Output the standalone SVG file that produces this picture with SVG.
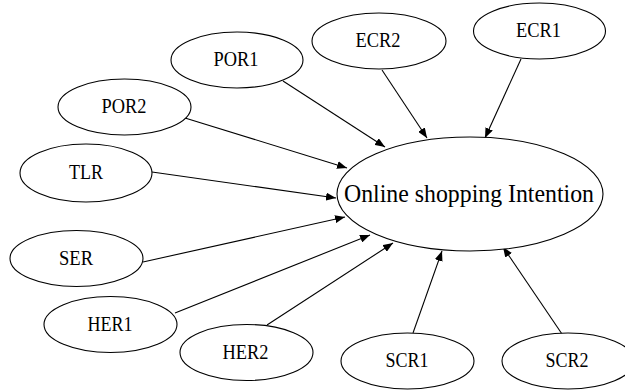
<svg xmlns="http://www.w3.org/2000/svg" width="625" height="392" viewBox="0 0 625 392">
<style>
.n ellipse{fill:#fff;stroke:#000;stroke-width:1.1}
.n text{font-family:"Liberation Serif","Times New Roman",serif;font-size:20px;text-anchor:middle;fill:#000}
#edges line{stroke:#000;stroke-width:1.1;marker-end:url(#ah)}
</style>
<defs>
<marker id="ah" markerWidth="11" markerHeight="8" refX="10" refY="4" orient="auto" markerUnits="userSpaceOnUse">
<path d="M0,0 L10,4 L0,8 Z" fill="#000"/>
</marker>
</defs>
<rect width="625" height="392" fill="#fff"/>
<g id="edges">
<line x1="283" y1="81" x2="385" y2="147"/>
<line x1="382" y1="70" x2="427" y2="138"/>
<line x1="521" y1="59" x2="485" y2="138"/>
<line x1="185" y1="118" x2="347" y2="168"/>
<line x1="152" y1="172" x2="336" y2="198"/>
<line x1="143" y1="262" x2="345" y2="217"/>
<line x1="175" y1="313" x2="370" y2="235"/>
<line x1="267" y1="325" x2="393" y2="243"/>
<line x1="413" y1="333" x2="442" y2="251"/>
<line x1="562" y1="334" x2="503" y2="247"/>
</g>
<g id="main" class="n"><ellipse cx="470" cy="194" rx="133" ry="57"/><text x="469" y="202" style="font-size:26px" textLength="250" lengthAdjust="spacingAndGlyphs">Online shopping Intention</text></g>
<g id="POR1" class="n"><ellipse cx="237" cy="60" rx="66" ry="28"/><text x="236" y="66" textLength="45" lengthAdjust="spacingAndGlyphs">POR1</text></g>
<g id="POR2" class="n"><ellipse cx="124.5" cy="107" rx="66.5" ry="28"/><text x="124" y="113" textLength="45" lengthAdjust="spacingAndGlyphs">POR2</text></g>
<g id="TLR" class="n"><ellipse cx="86" cy="173" rx="66" ry="29"/><text x="86" y="179" textLength="34" lengthAdjust="spacingAndGlyphs">TLR</text></g>
<g id="ECR2" class="n"><ellipse cx="379" cy="41" rx="67" ry="28"/><text x="378" y="47" textLength="45" lengthAdjust="spacingAndGlyphs">ECR2</text></g>
<g id="ECR1" class="n"><ellipse cx="539.5" cy="31" rx="66" ry="28"/><text x="538.5" y="37" textLength="45" lengthAdjust="spacingAndGlyphs">ECR1</text></g>
<g id="SER" class="n"><ellipse cx="76.5" cy="258.5" rx="66.5" ry="28"/><text x="76" y="265" textLength="34" lengthAdjust="spacingAndGlyphs">SER</text></g>
<g id="HER1" class="n"><ellipse cx="110.5" cy="324.5" rx="66.5" ry="28"/><text x="110" y="331" textLength="45" lengthAdjust="spacingAndGlyphs">HER1</text></g>
<g id="HER2" class="n"><ellipse cx="246.5" cy="352.5" rx="66.5" ry="28"/><text x="245.5" y="359" textLength="46" lengthAdjust="spacingAndGlyphs">HER2</text></g>
<g id="SCR1" class="n"><ellipse cx="407.5" cy="361" rx="66.5" ry="28"/><text x="407" y="367" textLength="43" lengthAdjust="spacingAndGlyphs">SCR1</text></g>
<g id="SCR2" class="n"><ellipse cx="568" cy="361" rx="66" ry="28"/><text x="567" y="367" textLength="43" lengthAdjust="spacingAndGlyphs">SCR2</text></g>
</svg>
